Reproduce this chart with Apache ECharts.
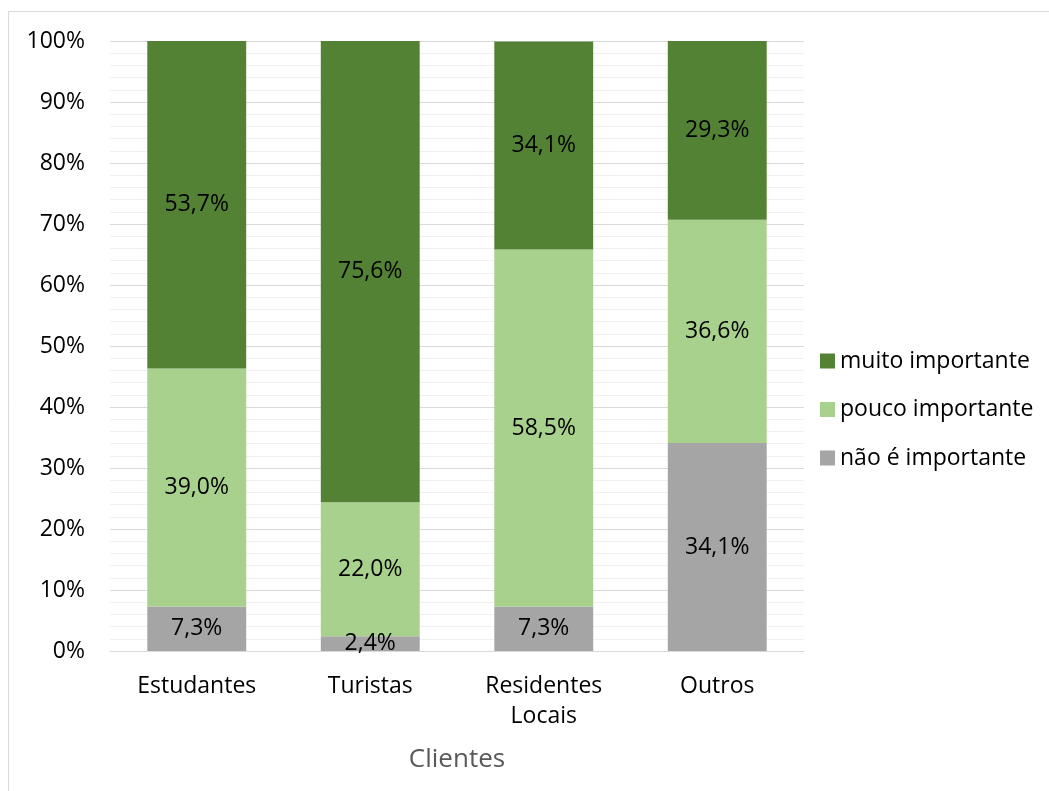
<!DOCTYPE html>
<html>
<head>
<meta charset="utf-8">
<script src="https://cdn.jsdelivr.net/npm/echarts@6/dist/echarts.min.js"></script>
<style>html,body{margin:0;padding:0;background:#fff}#c{width:1049px;height:791px}</style>
</head>
<body>
<div id="c"></div>
<script>
const categories = ['Estudantes', 'Turistas', 'Residentes\nLocais', 'Outros'];
const naoImportante = [7.3, 2.4, 7.3, 34.1];
const poucoImportante = [39.0, 22.0, 58.5, 36.6];
const muitoImportante = [53.7, 75.6, 34.1, 29.3];
const seriesNames = ['não é importante', 'pouco importante', 'muito importante'];
const axisTitle = 'Clientes';

const FONT = '"Open Sans", sans-serif';
const FS = 23;
const fmt = p => p.value.toFixed(1).replace('.', ',') + '%';
const mk = (name, data, color) => ({
  name, type: 'bar', stack: 'total', data, barWidth: '57%',
  itemStyle: { color },
  label: { show: true, position: 'inside', formatter: fmt, color: '#000', fontSize: FS, fontFamily: FONT },
  emphasis: { disabled: true }
});
const chart = echarts.init(document.getElementById('c'));
chart.setOption({
  animation: false,
  backgroundColor: '#fff',
  graphic: [{ type: 'rect', shape: { x: 8.5, y: 11.5, width: 1060, height: 800 }, style: { fill: 'none', stroke: '#d9d9d9', lineWidth: 1 }, silent: true }],
  grid: { left: 110, right: 245, top: 41, bottom: 140 },
  legend: {
    orient: 'vertical', left: 815, top: 342, itemWidth: 15, itemHeight: 15, itemGap: 20.5,
    icon: 'rect',
    data: [seriesNames[2], seriesNames[1], seriesNames[0]],
    textStyle: { fontSize: FS, fontFamily: FONT, color: '#000', lineHeight: 28 }
  },
  xAxis: {
    type: 'category', data: categories,
    name: axisTitle, nameLocation: 'middle', nameGap: 96,
    nameTextStyle: { fontSize: 26, fontFamily: FONT, color: '#595959' },
    axisLine: { lineStyle: { color: '#d9d9d9' } },
    axisTick: { show: false },
    axisLabel: { fontSize: FS, fontFamily: FONT, color: '#000', margin: 20, lineHeight: 30 }
  },
  yAxis: {
    type: 'value', min: 0, max: 100, interval: 10,
    axisLabel: { formatter: '{value}%', fontSize: FS, fontFamily: FONT, color: '#000', margin: 25 },
    axisLine: { show: false }, axisTick: { show: false },
    splitLine: { lineStyle: { color: '#d9d9d9' } },
    minorTick: { show: false, splitNumber: 5 },
    minorSplitLine: { show: true, lineStyle: { color: '#f0f0f0' } }
  },
  series: [
    mk(seriesNames[0], naoImportante, '#a5a5a5'),
    mk(seriesNames[1], poucoImportante, '#a9d18e'),
    mk(seriesNames[2], muitoImportante, '#548235')
  ]
});
</script>
</body>
</html>
